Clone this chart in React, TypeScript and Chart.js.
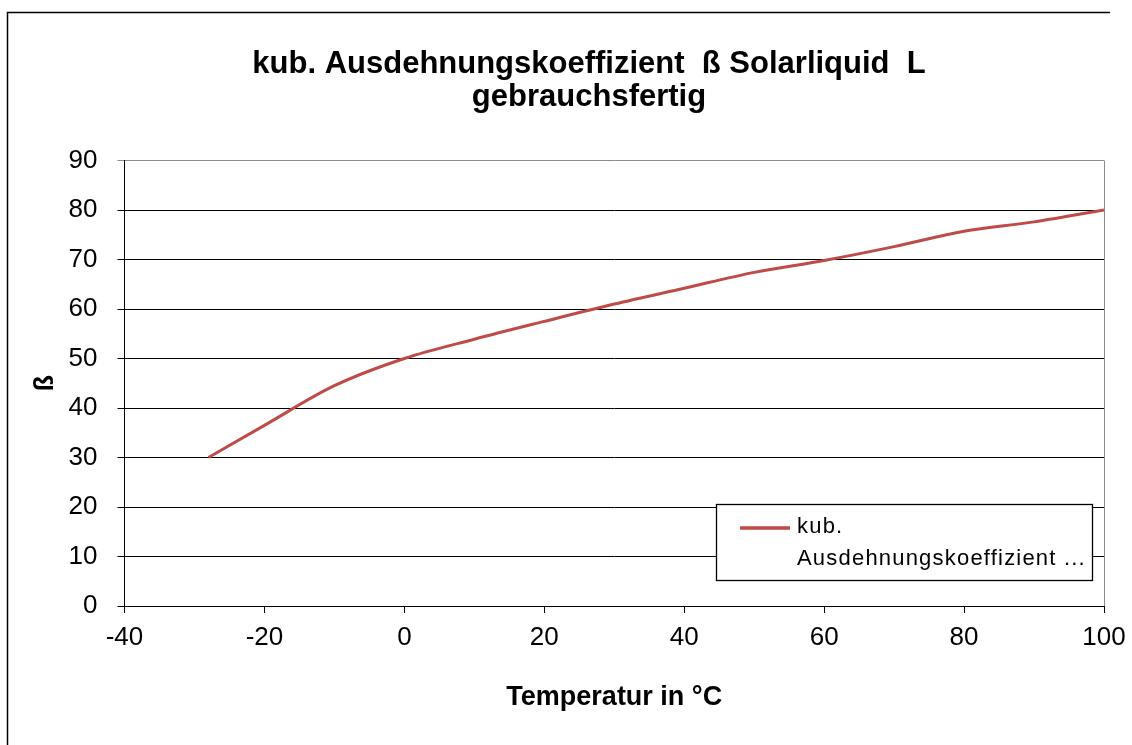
import React, { useEffect, useRef } from 'react';
import { Chart, registerables } from 'chart.js';

Chart.register(...registerables);

const temperatures = [-28, -20, -10, 0, 10, 20, 30, 40, 50, 60, 70, 80, 90, 100];
const betaValues = [30, 36.5, 44.5, 50, 53.9, 57.5, 61, 64.2, 67.4, 69.8, 72.6, 75.7, 77.6, 80];
const titleLines = ['kub. Ausdehnungskoeffizient  ß Solarliquid  L', 'gebrauchsfertig'];
const seriesLabel = 'kub. Ausdehnungskoeffizient ß';
const legendLines = ['kub.', 'Ausdehnungskoeffizient ...'];
const xTitle = 'Temperatur in °C';
const yTitle = 'ß';

const FONT = '"Liberation Sans", Arial, sans-serif';
const LINE_COLOR = '#BE4B48';

const decorPlugin = {
  id: 'decor',
  beforeDraw(chart: any) {
    const ctx = chart.ctx;
    ctx.save();
    ctx.fillStyle = '#ffffff';
    ctx.fillRect(0, 0, chart.width, chart.height);
    ctx.strokeStyle = '#000000';
    ctx.lineWidth = 1.5;
    ctx.beginPath();
    ctx.moveTo(7.5, chart.height);
    ctx.lineTo(7.5, 12.5);
    ctx.lineTo(1110, 12.5);
    ctx.stroke();
    ctx.restore();
  },
  afterDatasetsDraw(chart: any) {
    const ctx = chart.ctx;
    const a = chart.chartArea;
    ctx.save();
    ctx.strokeStyle = '#8c8c8c';
    ctx.lineWidth = 1;
    ctx.beginPath();
    ctx.moveTo(Math.round(a.right) + 0.5, a.top);
    ctx.lineTo(Math.round(a.right) + 0.5, a.bottom);
    ctx.stroke();
    const bx = 716.5, by = 504.5, bw = 376, bh = 76;
    ctx.fillStyle = '#ffffff';
    ctx.fillRect(bx, by, bw, bh);
    ctx.strokeStyle = '#000000';
    ctx.lineWidth = 1.3;
    ctx.strokeRect(bx, by, bw, bh);
    ctx.strokeStyle = LINE_COLOR;
    ctx.lineWidth = 3.5;
    ctx.beginPath();
    ctx.moveTo(740, 528);
    ctx.lineTo(790, 528);
    ctx.stroke();
    ctx.fillStyle = '#000000';
    ctx.font = `22px ${FONT}`;
    (ctx as any).letterSpacing = '1.2px';
    ctx.textAlign = 'left';
    ctx.textBaseline = 'middle';
    ctx.fillText(legendLines[0], 797, 527);
    ctx.fillText(legendLines[1], 797, 558.5);
    (ctx as any).letterSpacing = '0px';
    ctx.restore();
  },
  afterDraw(chart: any) {
    const ctx = chart.ctx;
    ctx.save();
    ctx.fillStyle = '#000000';
    ctx.font = `bold 31px ${FONT}`;
    ctx.textAlign = 'center';
    ctx.textBaseline = 'middle';
    ctx.fillText(titleLines[0], 589, 64);
    ctx.fillText(titleLines[1], 589, 97);
    ctx.restore();
  },
};

export default function App() {
  const canvasRef = useRef<HTMLCanvasElement | null>(null);

  useEffect(() => {
    const canvas = canvasRef.current;
    if (!canvas) return;
    const chart = new Chart(canvas, {
      type: 'line',
      data: {
        datasets: [
          {
            label: seriesLabel,
            data: temperatures.map((t, i) => ({ x: t, y: betaValues[i] })),
            borderColor: LINE_COLOR,
            backgroundColor: LINE_COLOR,
            borderWidth: 3,
            pointRadius: 0,
            cubicInterpolationMode: 'monotone',
            fill: false,
          },
        ],
      },
      options: {
        responsive: false,
        animation: false,
        layout: { padding: { top: 160.5, right: 28, left: 0, bottom: 0 } },
        plugins: {
          legend: { display: false },
          title: { display: false },
          tooltip: { enabled: false },
        },
        scales: {
          x: {
            type: 'linear',
            min: -40,
            max: 100,
            afterFit: (scale: any) => {
              scale.height = 139;
              scale.paddingRight = 0;
              scale.paddingLeft = 0;
            },
            ticks: {
              stepSize: 20,
              color: '#000000',
              padding: 9,
              maxRotation: 0,
              font: { family: FONT, size: 26 },
            },
            grid: {
              display: true,
              drawOnChartArea: false,
              drawTicks: true,
              tickLength: 7,
              color: '#000000',
            },
            border: { display: true, color: '#000000', width: 1 },
            title: {
              display: true,
              text: xTitle,
              color: '#000000',
              font: { family: FONT, size: 27, weight: 'bold' },
              padding: { top: 0, bottom: 31 },
            },
          },
          y: {
            min: 0,
            max: 90,
            afterFit: (scale: any) => {
              scale.width = 124.5;
            },
            ticks: {
              stepSize: 10,
              color: '#000000',
              padding: 20,
              font: { family: FONT, size: 26 },
            },
            grid: {
              color: (c: any) => (c.tick && c.tick.value === 90 ? '#8c8c8c' : '#000000'),
              lineWidth: 1,
              drawTicks: true,
              tickLength: 7,
            },
            border: { display: true, color: '#000000', width: 1 },
            title: {
              display: true,
              text: yTitle,
              color: '#000000',
              font: { family: FONT, size: 27, weight: 'bold' },
              padding: { top: 29, bottom: 0 },
            },
          },
        },
      },
      plugins: [decorPlugin],
    } as any);
    return () => {
      chart.destroy();
    };
  }, []);

  return (
    <div style={{ position: 'fixed', left: 0, top: 0, width: 1132, height: 745, background: '#fff' }}>
      <canvas ref={canvasRef} width={1132} height={745} style={{ display: 'block', width: 1132, height: 745 }} />
    </div>
  );
}
